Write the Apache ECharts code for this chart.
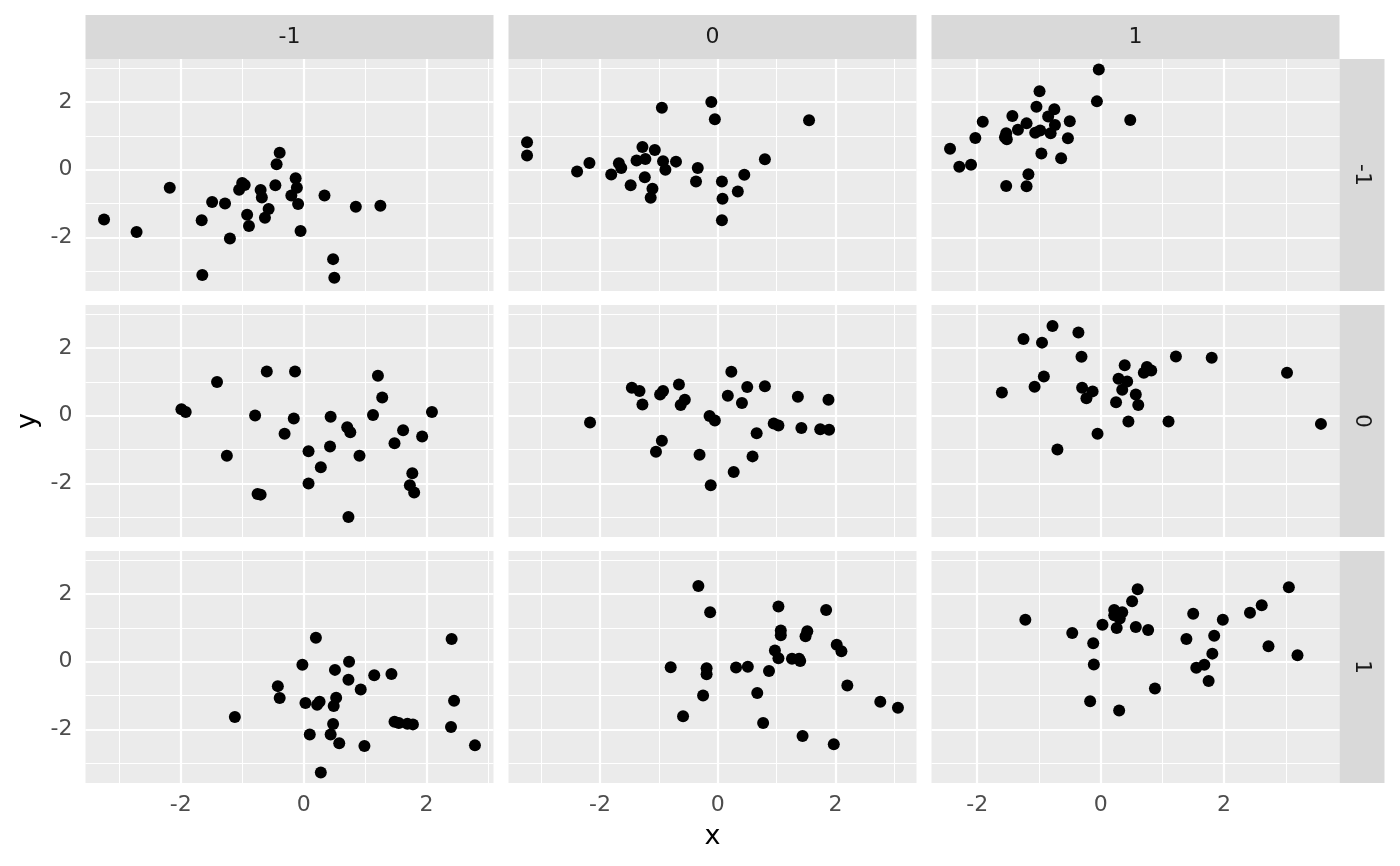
<!DOCTYPE html>
<html>
<head>
<meta charset="utf-8">
<script src="https://cdn.jsdelivr.net/npm/echarts@6/dist/echarts.min.js"></script>
<style>
html,body{margin:0;padding:0;background:#fff}
#c{width:1400px;height:866px}
</style>
</head>
<body>
<div id="c"></div>
<script>
// facet labels (columns = first factor, rows = second factor)
var colLabels = ['-1', '0', '1'];
var rowLabels = ['-1', '0', '1'];
var tickVals = [-2, 0, 2];
var gridVals = [-3, -2, -1, 0, 1, 2, 3];

// points per panel, [x, y]; pRC = row R, column C
var p11 = [[-3.25,-1.47],[-2.72,-1.84],[-2.18,-0.53],[-1.66,-1.49],[-1.65,-3.11],[-1.49,-0.95],[-1.28,-1.00],[-1.20,-2.03],[-1.05,-0.59],[-1.00,-0.39],[-0.96,-0.45],[-0.92,-1.33],[-0.89,-1.66],[-0.70,-0.60],[-0.68,-0.82],[-0.57,-1.16],[-0.63,-1.42],[-0.46,-0.46],[-0.44,0.16],[-0.39,0.50],[-0.13,-0.25],[-0.11,-0.53],[-0.20,-0.76],[-0.09,-1.01],[-0.05,-1.81],[0.34,-0.76],[0.48,-2.64],[0.50,-3.19],[0.85,-1.09],[1.25,-1.06]];
var p12 = [[-3.24,0.81],[-3.24,0.42],[-2.39,-0.05],[-2.18,0.20],[-1.81,-0.14],[-1.68,0.19],[-1.64,0.05],[-1.48,-0.46],[-1.38,0.27],[-1.28,0.67],[-1.23,0.32],[-1.24,-0.22],[-1.11,-0.56],[-1.14,-0.83],[-1.07,0.58],[-0.95,1.83],[-0.93,0.25],[-0.89,0.00],[-0.71,0.24],[-0.34,0.05],[-0.37,-0.35],[-0.11,2.00],[-0.05,1.49],[0.07,-0.35],[0.08,-0.86],[0.07,-1.49],[0.34,-0.64],[0.45,-0.15],[0.80,0.31],[1.55,1.46]];
var p13 = [[-2.44,0.62],[-2.29,0.09],[-2.10,0.15],[-2.03,0.94],[-1.91,1.42],[-1.43,1.59],[-1.55,0.96],[-1.52,0.90],[-1.53,1.08],[-1.53,-0.48],[-1.34,1.18],[-1.20,1.37],[-1.17,-0.13],[-1.20,-0.49],[-1.04,1.86],[-0.99,2.32],[-1.06,1.09],[-0.98,1.16],[-0.96,0.48],[-0.85,1.57],[-0.75,1.79],[-0.74,1.32],[-0.81,1.08],[-0.50,1.43],[-0.53,0.93],[-0.64,0.34],[-0.03,2.96],[-0.06,2.02],[0.48,1.47]];
var p21 = [[-1.99,0.19],[-1.92,0.11],[-1.41,1.00],[-1.25,-1.18],[-0.75,-2.31],[-0.70,-2.33],[-0.79,0.01],[-0.60,1.31],[-0.31,-0.53],[-0.14,1.31],[-0.16,-0.08],[0.08,-1.05],[0.08,-2.00],[0.28,-1.52],[0.43,-0.91],[0.44,-0.03],[0.71,-0.34],[0.76,-0.49],[0.73,-2.99],[0.91,-1.18],[1.13,0.02],[1.21,1.18],[1.28,0.54],[1.48,-0.81],[1.62,-0.43],[1.77,-1.70],[1.73,-2.05],[1.80,-2.27],[1.93,-0.61],[2.09,0.11]];
var p22 = [[-2.17,-0.20],[-1.46,0.83],[-1.33,0.73],[-1.28,0.33],[-0.98,0.63],[-0.93,0.73],[-0.95,-0.74],[-1.05,-1.06],[-0.66,0.92],[-0.63,0.32],[-0.56,0.47],[-0.31,-1.15],[-0.14,-0.01],[-0.05,-0.14],[-0.12,-2.05],[0.17,0.59],[0.23,1.30],[0.27,-1.66],[0.41,0.38],[0.50,0.85],[0.59,-1.20],[0.66,-0.52],[0.80,0.87],[0.95,-0.23],[1.03,-0.29],[1.36,0.56],[1.42,-0.36],[1.74,-0.40],[1.89,-0.41],[1.88,0.47]];
var p23 = [[-1.60,0.69],[-1.25,2.27],[-1.07,0.86],[-0.95,2.16],[-0.92,1.16],[-0.78,2.65],[-0.70,-1.00],[-0.36,2.46],[-0.31,1.74],[-0.30,0.83],[-0.23,0.52],[-0.13,0.72],[-0.05,-0.53],[0.25,0.40],[0.29,1.09],[0.35,0.77],[0.39,1.49],[0.43,1.01],[0.45,-0.17],[0.57,0.63],[0.61,0.32],[0.70,1.27],[0.75,1.44],[0.82,1.34],[1.10,-0.17],[1.22,1.75],[1.80,1.71],[3.02,1.27],[3.57,-0.24]];
var p31 = [[-1.12,-1.63],[-0.42,-0.72],[-0.39,-1.07],[-0.02,-0.09],[0.03,-1.22],[0.10,-2.15],[0.20,0.71],[0.22,-1.27],[0.26,-1.18],[0.28,-3.27],[0.48,-1.84],[0.49,-1.31],[0.53,-1.06],[0.44,-2.15],[0.51,-0.24],[0.58,-2.41],[0.73,-0.53],[0.74,0.00],[0.93,-0.82],[0.99,-2.49],[1.15,-0.40],[1.43,-0.36],[1.48,-1.77],[1.55,-1.81],[1.69,-1.83],[1.78,-1.85],[2.41,0.67],[2.45,-1.15],[2.40,-1.93],[2.79,-2.47]];
var p32 = [[-0.80,-0.16],[-0.59,-1.61],[-0.33,2.24],[-0.25,-1.00],[-0.19,-0.19],[-0.19,-0.37],[-0.13,1.46],[0.31,-0.17],[0.51,-0.15],[0.67,-0.92],[0.77,-1.81],[0.87,-0.27],[0.97,0.33],[1.03,1.63],[1.03,0.10],[1.07,0.92],[1.07,0.78],[1.26,0.09],[1.40,0.02],[1.38,0.09],[1.44,-2.19],[1.49,0.75],[1.52,0.90],[1.84,1.53],[1.97,-2.44],[2.02,0.50],[2.10,0.31],[2.20,-0.70],[2.76,-1.18],[3.06,-1.36]];
var p33 = [[-1.22,1.24],[-0.46,0.85],[-0.12,0.55],[-0.11,-0.08],[-0.17,-1.17],[0.03,1.09],[0.22,1.53],[0.22,1.37],[0.35,1.46],[0.31,1.28],[0.26,1.00],[0.30,-1.44],[0.51,1.79],[0.60,2.14],[0.57,1.03],[0.77,0.94],[0.88,-0.79],[1.39,0.67],[1.50,1.42],[1.55,-0.18],[1.68,-0.09],[1.75,-0.57],[1.81,0.24],[1.84,0.77],[1.98,1.24],[2.42,1.45],[2.61,1.67],[2.72,0.46],[3.05,2.20],[3.19,0.19]];

var panels = [[p11, p12, p13], [p21, p22, p23], [p31, p32, p33]];

// ggplot style 5% expansion; x free per column, y shared
function expand(v) {
  var lo = Math.min.apply(null, v), hi = Math.max.apply(null, v), d = (hi - lo) * 0.05;
  return [lo - d, hi + d];
}
var allY = [];
panels.forEach(function (r) { r.forEach(function (p) { p.forEach(function (d) { allY.push(d[1]); }); }); });
var yR = expand(allY);
var xR = [0, 1, 2].map(function (c) {
  var v = [];
  panels.forEach(function (r) { r[c].forEach(function (d) { v.push(d[0]); }); });
  return expand(v);
});

var FONT = 'DejaVu Sans';
var L = [85.5, 508.5, 931.5], T = [59, 305, 551], W = 408, H = 232;

function gridLines(range, key) {
  return gridVals.filter(function (v) { return v > range[0] && v < range[1]; }).map(function (v) {
    var o = {lineStyle: {color: '#ffffff', width: v % 2 === 0 ? 2.2 : 1.1, type: 'solid'}};
    o[key] = v;
    return o;
  });
}

var grids = [], xAxes = [], yAxes = [], series = [], graphics = [];
for (var r = 0; r < 3; r++) {
  for (var c = 0; c < 3; c++) {
    var i = r * 3 + c;
    grids.push({left: L[c], top: T[r], width: W, height: H, show: true, backgroundColor: '#EBEBEB', borderWidth: 0});
    xAxes.push({
      type: 'value', gridIndex: i, min: xR[c][0], max: xR[c][1],
      axisLine: {show: false}, splitLine: {show: false},
      axisTick: {show: r === 2, customValues: tickVals, length: 7, lineStyle: {color: '#333333', width: 2}},
      axisLabel: {show: r === 2, customValues: tickVals, margin: 11, fontSize: 22, color: '#4D4D4D', fontFamily: FONT}
    });
    yAxes.push({
      type: 'value', gridIndex: i, min: yR[0], max: yR[1],
      axisLine: {show: false}, splitLine: {show: false},
      axisTick: {show: c === 0, customValues: tickVals, length: 7, lineStyle: {color: '#333333', width: 2}},
      axisLabel: {show: c === 0, customValues: tickVals, margin: 13, fontSize: 22, color: '#4D4D4D', fontFamily: FONT}
    });
    series.push({
      type: 'scatter', xAxisIndex: i, yAxisIndex: i, data: panels[r][c],
      symbolSize: 12, z: 10, itemStyle: {color: '#000000', opacity: 1},
      markLine: {
        silent: true, symbol: ['none', 'none'], animation: false,
        label: {show: false}, emphasis: {disabled: true},
        data: gridLines(xR[c], 'xAxis').concat(gridLines(yR, 'yAxis'))
      }
    });
  }
}

// strips
for (var c2 = 0; c2 < 3; c2++) {
  graphics.push({type: 'rect', shape: {x: L[c2], y: 15, width: W, height: 44}, style: {fill: '#D9D9D9'}});
  graphics.push({type: 'text', x: L[c2] + W / 2, y: 37,
    style: {text: colLabels[c2], fontSize: 22, fontFamily: FONT, fill: '#1A1A1A', align: 'center', verticalAlign: 'middle', textAlign: 'center', textVerticalAlign: 'middle'}});
}
for (var r2 = 0; r2 < 3; r2++) {
  graphics.push({type: 'rect', shape: {x: L[2] + W, y: T[r2], width: 45, height: H}, style: {fill: '#D9D9D9'}});
  graphics.push({type: 'text', x: L[2] + W + 22.5, y: T[r2] + H / 2, rotation: -Math.PI / 2,
    style: {text: rowLabels[r2], fontSize: 22, fontFamily: FONT, fill: '#1A1A1A', align: 'center', verticalAlign: 'middle', textAlign: 'center', textVerticalAlign: 'middle'}});
}
// axis titles
graphics.push({type: 'text', x: 712.5, y: 837,
  style: {text: 'x', fontSize: 27, fontFamily: FONT, fill: '#000000', align: 'center', verticalAlign: 'middle', textAlign: 'center', textVerticalAlign: 'middle'}});
graphics.push({type: 'text', x: 28, y: 421, rotation: Math.PI / 2,
  style: {text: 'y', fontSize: 27, fontFamily: FONT, fill: '#000000', align: 'center', verticalAlign: 'middle', textAlign: 'center', textVerticalAlign: 'middle'}});

var myChart = echarts.init(document.getElementById('c'));
var option = {
  backgroundColor: '#ffffff',
  animation: false,
  grid: grids,
  xAxis: xAxes,
  yAxis: yAxes,
  series: series,
  graphic: {elements: graphics}
};
myChart.setOption(option);
window.addEventListener('resize', function () { myChart.resize(); });
</script>
</body>
</html>
